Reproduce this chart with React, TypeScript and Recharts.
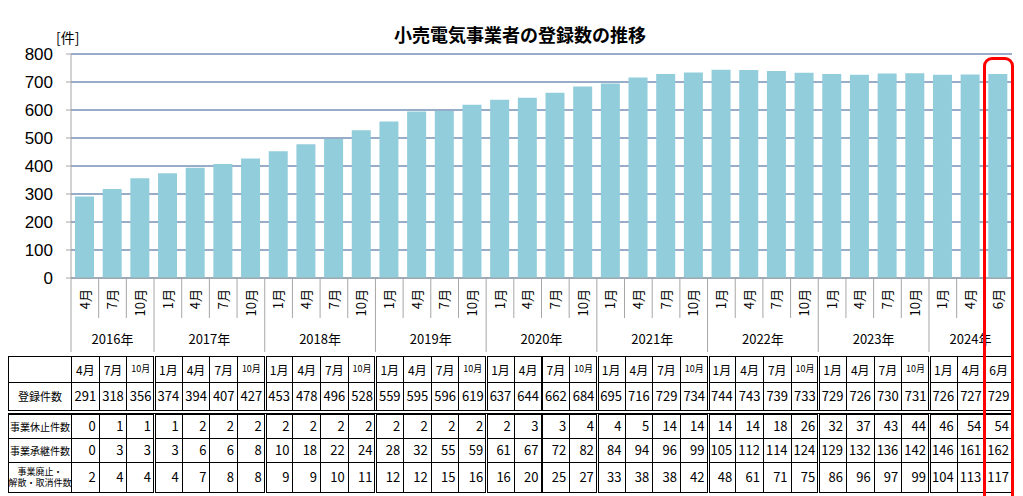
import React from "react";
import { BarChart, Bar, XAxis, YAxis, CartesianGrid } from "recharts";

const months = [
  "4月", "7月", "10月",
  "1月", "4月", "7月", "10月",
  "1月", "4月", "7月", "10月",
  "1月", "4月", "7月", "10月",
  "1月", "4月", "7月", "10月",
  "1月", "4月", "7月", "10月",
  "1月", "4月", "7月", "10月",
  "1月", "4月", "7月", "10月",
  "1月", "4月", "6月",
];
const years = [
  "2016年", "2016年", "2016年",
  "2017年", "2017年", "2017年", "2017年",
  "2018年", "2018年", "2018年", "2018年",
  "2019年", "2019年", "2019年", "2019年",
  "2020年", "2020年", "2020年", "2020年",
  "2021年", "2021年", "2021年", "2021年",
  "2022年", "2022年", "2022年", "2022年",
  "2023年", "2023年", "2023年", "2023年",
  "2024年", "2024年", "2024年",
];
const registered = [
  291, 318, 356, 374, 394, 407, 427, 453, 478, 496, 528, 559, 595, 596, 619,
  637, 644, 662, 684, 695, 716, 729, 734, 744, 743, 739, 733, 729, 726, 730,
  731, 726, 727, 729,
];
const suspended = [
  0, 1, 1, 1, 2, 2, 2, 2, 2, 2, 2, 2, 2, 2, 2, 2, 3, 3, 4, 4, 5, 14, 14, 14,
  14, 18, 26, 32, 37, 43, 44, 46, 54, 54,
];
const succeeded = [
  0, 3, 3, 3, 6, 6, 8, 10, 18, 22, 24, 28, 32, 55, 59, 61, 67, 72, 82, 84, 94,
  96, 99, 105, 112, 114, 124, 129, 132, 136, 142, 146, 161, 162,
];
const abolished = [
  2, 4, 4, 4, 7, 8, 8, 9, 9, 10, 11, 12, 12, 15, 16, 16, 20, 25, 27, 33, 38,
  38, 42, 48, 61, 71, 75, 86, 96, 97, 99, 104, 113, 117,
];
const yTicks = [0, 100, 200, 300, 400, 500, 600, 700, 800];

const data = registered.map((v, i) => ({ id: i, month: months[i], year: years[i], value: v }));

const W = 1023;
const PLOT_L = 71;
const PLOT_R = 1012;
const AXIS_Y = 278;
const STEP = (PLOT_R - PLOT_L) / months.length;
const JP = '"Noto Sans CJK JP", "Noto Sans", sans-serif';

const isGroupStart = (i: number) => i === 0 || years[i] !== years[i - 1];
const groupSize = (i: number) => {
  let n = 0;
  while (i + n < years.length && years[i + n] === years[i]) n++;
  return n;
};

function MonthTick(props: any) {
  const { x, index } = props;
  const left = x - STEP / 2;
  const start = isGroupStart(index);
  const last = index === months.length - 1;
  return (
    <g>
      <line x1={left} x2={left} y1={AXIS_Y} y2={start ? 352 : 318} stroke="#a6a6a6" />
      {last && <line x1={left + STEP} x2={left + STEP} y1={AXIS_Y} y2={352} stroke="#a6a6a6" />}
      <text
        transform={`translate(${x},289) rotate(-90)`}
        textAnchor="end"
        dy="0.36em"
        fontSize={13}
        fontFamily={JP}
        fill="#000"
      >
        {months[index]}
      </text>
      {start && (
        <text
          x={left + (groupSize(index) * STEP) / 2}
          y={344}
          textAnchor="middle"
          fontSize={13}
          fontFamily={JP}
          fill="#000"
        >
          {years[index]}
        </text>
      )}
    </g>
  );
}

function Cell({ left, top, width, height, children, align = "center", size = 13 }: any) {
  return (
    <div
      style={{
        position: "absolute",
        left,
        top,
        width: width + 1,
        height: height + 1,
        boxSizing: "border-box",
        border: "1px solid #000",
        display: "flex",
        alignItems: "center",
        justifyContent: align === "right" ? "flex-end" : "center",
        paddingRight: align === "right" ? 3 : 0,
        fontSize: size,
        lineHeight: 1.15,
        textAlign: "center",
        fontFamily: JP,
        color: "#000",
        whiteSpace: "pre",
        overflow: "hidden",
      }}
    >
      {children}
    </div>
  );
}

const rows = [
  { top: 382, h: 28, label: "登録件数", vals: registered, align: "center", ls: 11 },
  { top: 414, h: 24, label: "事業休止件数", vals: suspended, align: "right", ls: 10 },
  { top: 438, h: 24, label: "事業承継件数", vals: succeeded, align: "right", ls: 10 },
  { top: 462, h: 30, label: "事業廃止・\n解散・取消件数", vals: abolished, align: "right", ls: 9 },
];

export default function App() {
  return (
    <div style={{ position: "relative", width: W, height: 496, overflow: "hidden", background: "#fff" }}>
      <style>{`body{margin:0}`}</style>
      <div
        style={{
          position: "absolute",
          left: 320,
          width: 400,
          top: 21,
          textAlign: "center",
          fontFamily: JP,
          fontWeight: 700,
          fontSize: 18,
          color: "#000",
        }}
      >
        小売電気事業者の登録数の推移
      </div>
      <div style={{ position: "absolute", left: 56, top: 27, fontFamily: JP, fontSize: 14, color: "#000" }}>
        [件]
      </div>
      <div style={{ position: "absolute", left: 0, top: 0 }}>
        <BarChart
          width={W}
          height={352}
          data={data}
          margin={{ top: 54, right: W - PLOT_R, bottom: 2, left: 8 }}
          barSize={19}
        >
          <CartesianGrid horizontal vertical={false} stroke="#2f5b91" strokeWidth={1} />
          <XAxis
            dataKey="id"
            type="category"
            interval={0}
            height={72}
            axisLine={{ stroke: "#a6a6a6" }}
            tickLine={false}
            tick={<MonthTick />}
          />
          <YAxis
            width={63}
            domain={[0, 800]}
            ticks={yTicks}
            interval={0}
            tickSize={5}
            tickMargin={13}
            axisLine={{ stroke: "#a6a6a6" }}
            tickLine={{ stroke: "#a6a6a6" }}
            tick={{ fontSize: 17, fill: "#000", fontFamily: '"Liberation Sans", Arial, sans-serif' }}
          />
          <Bar dataKey="value" fill="#92cddc" isAnimationActive={false} />
        </BarChart>
      </div>

      {/* data table */}
      <Cell left={8} top={356} width={PLOT_L - 8} height={26} />
      {months.map((m, i) => (
        <Cell key={"h" + i} left={PLOT_L + i * STEP} top={356} width={STEP} height={26} size={m === "10月" ? 9 : 12}>
          {m}
        </Cell>
      ))}
      {rows.map((r) => (
        <React.Fragment key={r.label}>
          <Cell left={8} top={r.top} width={PLOT_L - 8} height={r.h} size={r.ls}>
            {r.label}
          </Cell>
          {r.vals.map((v, i) => (
            <Cell key={i} left={PLOT_L + i * STEP} top={r.top} width={STEP} height={r.h} align={r.align}>
              {v}
            </Cell>
          ))}
        </React.Fragment>
      ))}
      {months.map((_, i) =>
        isGroupStart(i) && i > 0 ? (
          <div
            key={"g" + i}
            style={{ position: "absolute", left: PLOT_L + i * STEP - 1, top: 356, width: 3, height: 137, borderLeft: "1px solid #000", borderRight: "1px solid #000", background: "#fff", boxSizing: "border-box" }}
          />
        ) : null
      )}
      <div style={{ position: "absolute", left: 8, top: 410, width: PLOT_R - 8, height: 4, background: "#fff", borderTop: "1px solid #000", borderBottom: "1px solid #000", boxSizing: "border-box" }} />

      <div
        style={{
          position: "absolute",
          left: 983,
          top: 57,
          width: 31,
          height: 480,
          border: "3px solid #ff0000",
          borderRadius: 9,
          boxSizing: "border-box",
        }}
      />
    </div>
  );
}
